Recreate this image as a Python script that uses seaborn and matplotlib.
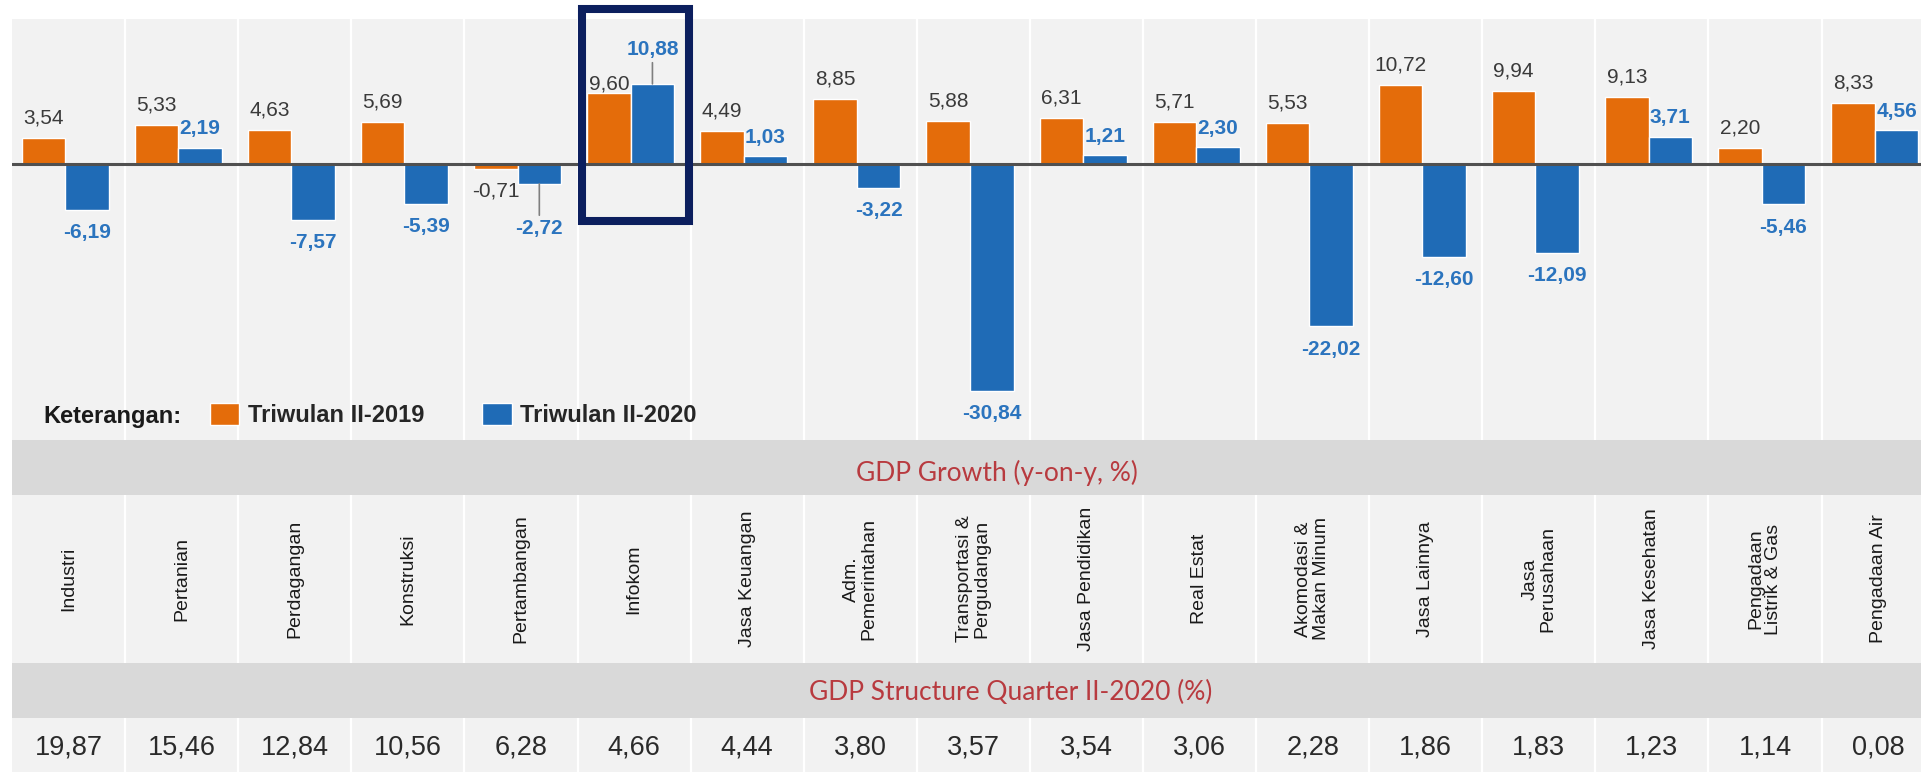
import matplotlib

matplotlib.use("Agg")
import matplotlib.pyplot as plt
import pandas as pd
import seaborn as sns
from matplotlib import font_manager
from matplotlib.patches import Rectangle

# data
sektor = [
    "Industri", "Pertanian", "Perdagangan", "Konstruksi", "Pertambangan", "Infokom",
    "Jasa Keuangan", "Adm.\nPemerintahan", "Transportasi &\nPergudangan", "Jasa Pendidikan",
    "Real Estat", "Akomodasi &\nMakan Minum", "Jasa Lainnya", "Jasa\nPerusahaan",
    "Jasa Kesehatan", "Pengadaan\nListrik & Gas", "Pengadaan Air",
]
tw2_2019 = [3.54, 5.33, 4.63, 5.69, -0.71, 9.60, 4.49, 8.85, 5.88, 6.31, 5.71, 5.53,
            10.72, 9.94, 9.13, 2.20, 8.33]
tw2_2020 = [-6.19, 2.19, -7.57, -5.39, -2.72, 10.88, 1.03, -3.22, -30.84, 1.21, 2.30,
            -22.02, -12.60, -12.09, 3.71, -5.46, 4.56]
struktur = [19.87, 15.46, 12.84, 10.56, 6.28, 4.66, 4.44, 3.80, 3.57, 3.54, 3.06, 2.28,
            1.86, 1.83, 1.23, 1.14, 0.08]
periode = ["Triwulan II-2019", "Triwulan II-2020"]

ORANGE = "#E46C0A"
BLUE = "#1F6BB6"
BG = "#F2F2F2"
BAND = "#D9D9D9"
RED = "#B83A3F"
NAVY = "#0C1F5E"

W, H = 1921, 772
COL = 113.1      # column width in px
X0 = 12          # left edge of first column
PX_PER_UNIT = 7.36
ZERO_Y = 164

# the source uses a narrow Arial; use Liberation Sans Narrow if it is there
installed = {f.name for f in font_manager.fontManager.ttflist}
if "Liberation Sans Narrow" in installed:
    NARROW = ["Liberation Sans Narrow", "DejaVu Sans"]
    VAL_SIZE, CAT_SIZE = 17, 17
else:
    NARROW = ["Liberation Sans", "DejaVu Sans"]
    VAL_SIZE, CAT_SIZE = 15, 14


def fmt(v):
    return f"{v:.2f}".replace(".", ",")


df = pd.DataFrame({
    "sektor": sektor * 2,
    "nilai": tw2_2019 + tw2_2020,
    "periode": [periode[0]] * len(sektor) + [periode[1]] * len(sektor),
})

sns.set_style("white")
plt.rcParams["font.family"] = ["Liberation Sans", "DejaVu Sans"]

fig = plt.figure(figsize=(W / 100, H / 100), dpi=100)

# --- bar chart -------------------------------------------------------------
top_px, bot_px = 19, 440
ax = fig.add_axes([X0 / W, 1 - bot_px / H, len(sektor) * COL / W, (bot_px - top_px) / H])
ax.set_facecolor(BG)
sns.barplot(data=df, x="sektor", y="nilai", hue="periode", order=sektor,
            hue_order=periode, palette=[ORANGE, BLUE], saturation=1, width=0.77,
            ax=ax, zorder=2)
# bar groups sit a little left of the column centre in the source
for cont in ax.containers[:2]:
    for bar in cont:
        bar.set_x(bar.get_x() - 0.03)
ax.set_xlim(-0.5, len(sektor) - 0.5)
ax.set_ylim(-(bot_px - ZERO_Y) / PX_PER_UNIT, (ZERO_Y - top_px) / PX_PER_UNIT)
for s in ax.spines.values():
    s.set_visible(False)
ax.set_xticks([])
ax.set_yticks([])
ax.set_xlabel("")
ax.set_ylabel("")
for i in range(len(sektor) - 1):
    ax.axvline(i + 0.5, color="white", lw=1.6, zorder=0.5)
ax.axhline(0, color="#505050", lw=2.2, zorder=3)

# value labels
special = {("Infokom", 0): 9, ("Infokom", 1): 34, ("Pertambangan", 1): -44}
leader = {("Infokom", 1), ("Pertambangan", 1)}
for k, cont in enumerate(ax.containers[:2]):
    for name, bar in zip(sektor, cont):
        v = bar.get_height()
        xc = bar.get_x() + bar.get_width() / 2
        if k == 0:
            off = 20 if v >= 0 else -22
            style = dict(color="#3A3A3A", fontsize=VAL_SIZE)
        else:
            off = 19 if v >= 0 else -23
            style = dict(color="#2B74BE", fontsize=VAL_SIZE, fontweight="bold")
        off = special.get((name, k), off)
        arrow = None
        if (name, k) in leader:
            arrow = dict(arrowstyle="-", color="#7F7F7F", lw=1.2, shrinkA=0, shrinkB=0)
        ax.annotate(fmt(v), xy=(xc, v), xytext=(0, off), textcoords="offset pixels",
                    ha="center", va="center", arrowprops=arrow, zorder=4,
                    family=NARROW, **style)

# highlight box around Infokom
idx = sektor.index("Infokom")
ax.add_patch(Rectangle((idx - 0.46, -(221 - ZERO_Y) / PX_PER_UNIT), 0.95,
                       (221 - 9) / PX_PER_UNIT, fill=False, lw=5.8,
                       edgecolor=NAVY, clip_on=False, zorder=10))

# legend
handles, labels = ax.get_legend_handles_labels()
if ax.get_legend() is not None:
    ax.get_legend().remove()
fig.text(43 / W, 1 - 416 / H, "Keterangan:", fontsize=17, fontweight="bold",
         ha="left", va="center", color="#1A1A1A")
fig.legend(handles[:2], labels[:2], loc="center left",
           bbox_to_anchor=(210 / W, 1 - 415 / H), ncol=2, frameon=False,
           borderpad=0, borderaxespad=0, handlelength=1.23, handleheight=1.02,
           handletextpad=0.38, columnspacing=2.46,
           prop={"size": 17, "weight": "bold"})

# --- table below -----------------------------------------------------------
tab = fig.add_axes([X0 / W, 0, len(sektor) * COL / W, 1 - bot_px / H])
tab.set_facecolor(BG)
tab.set_xlim(-0.5, len(sektor) - 0.5)
tab.set_ylim(H, bot_px)
for s in tab.spines.values():
    s.set_visible(False)
tab.set_xticks([])
tab.set_yticks([])
tab.axhspan(bot_px, 495, color=BAND, lw=0)
tab.axhspan(663, 718, color=BAND, lw=0)
seps = [i + 0.5 for i in range(len(sektor) - 1)]
tab.vlines(seps, 495, 663, colors="white", lw=1.6)
tab.vlines(seps, 718, H, colors="white", lw=1.6)
for i, (name, val) in enumerate(zip(sektor, struktur)):
    tab.text(i, 579, name, rotation=90, ha="center", va="center",
             multialignment="center", fontsize=CAT_SIZE, color="#1A1A1A",
             family=NARROW, linespacing=1.05)
    tab.text(i, 748, fmt(val), ha="center", va="center", fontsize=19.5, color="#2A2A2A")

fig.text(997 / W, 1 - 473 / H, "GDP Growth (y-on-y, %)", fontsize=19,
         family=["Lato", "DejaVu Sans"], color=RED, ha="center", va="center")
fig.text(1011 / W, 1 - 692 / H, "GDP Structure Quarter II-2020 (%)", fontsize=19,
         family=["Lato", "DejaVu Sans"], color=RED, ha="center", va="center")

fig.savefig("out.png", dpi=100, facecolor="white")
